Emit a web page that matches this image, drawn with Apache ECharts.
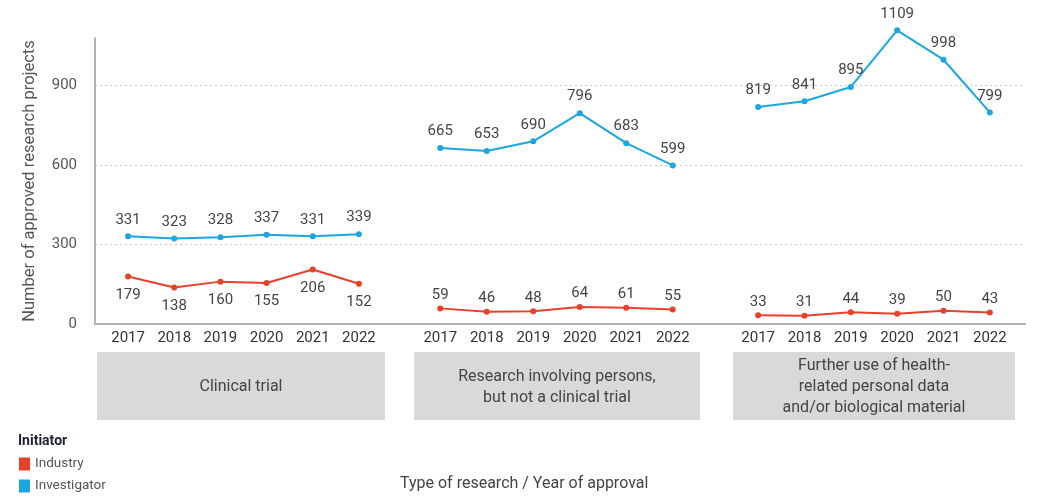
<!DOCTYPE html>
<html>
<head>
<meta charset="utf-8">
<script src="https://cdn.jsdelivr.net/npm/echarts@6/dist/echarts.min.js"></script>
<style>html,body{margin:0;padding:0;background:#fff;}#c{width:1040px;height:496px;}</style>
</head>
<body>
<div id="c"></div>
<script>
const years = ['2017','2018','2019','2020','2021','2022'];
const groupNames = ['Clinical trial', 'Research involving persons,\nbut not a clinical trial', 'Further use of health-\nrelated personal data\nand/or biological material'];
const industry = [
  [179, 138, 160, 155, 206, 152],
  [59, 46, 48, 64, 61, 55],
  [33, 31, 44, 39, 50, 43]
];
const investigator = [
  [331, 323, 328, 337, 331, 339],
  [665, 653, 690, 796, 683, 599],
  [819, 841, 895, 1109, 998, 799]
];
const yTicks = [0, 300, 600, 900];
const yMax = 1080;

const RED = '#e8412b', BLUE = '#1ca6e0';
const FONT = 'Roboto, "Liberation Sans", sans-serif';
const chart = echarts.init(document.getElementById('c'));

const gridPos = [
  {left: 105, width: 277},
  {left: 417, width: 279},
  {left: 735, width: 278}
];
const boxes = [
  {x: 97, w: 288},
  {x: 414, w: 286},
  {x: 733, w: 282}
];
const TOP = 38, BOTTOM = 172;

const grids = [{left: 95, right: 15, top: TOP, bottom: BOTTOM}];
const xAxes = [{gridIndex: 0, type: 'category', data: [''], axisLine: {lineStyle: {color: '#b0b0b0', width: 2}}, axisTick: {show: false}, axisLabel: {show: false}}];
const yAxes = [{
  gridIndex: 0, type: 'value', min: 0, max: yMax, interval: yTicks[1] - yTicks[0],
  name: 'Number of approved research projects', nameLocation: 'middle', nameGap: 57,
  nameTextStyle: {color: '#555', fontSize: 16.5, fontFamily: FONT},
  axisLine: {show: true, lineStyle: {color: '#9a9a9a', width: 1.5}},
  axisTick: {show: false},
  axisLabel: {color: '#555', fontSize: 15, fontFamily: FONT, margin: 18, showMaxLabel: false},
  splitLine: {show: true, showMaxLine: false, lineStyle: {color: '#c8c8c8', type: [2, 3], width: 1}}
}];
const series = [];
for (let g = 0; g < 3; g++) {
  grids.push({left: gridPos[g].left, width: gridPos[g].width, top: TOP, bottom: BOTTOM});
  xAxes.push({gridIndex: g + 1, type: 'category', data: years, boundaryGap: true,
    axisLine: {show: false}, axisTick: {show: false},
    axisLabel: {color: '#333', fontSize: 15, fontFamily: FONT, margin: 7, interval: 0}});
  yAxes.push({gridIndex: g + 1, type: 'value', min: 0, max: yMax, show: false, splitLine: {show: false}});
  series.push({
    name: 'Industry', type: 'line', xAxisIndex: g + 1, yAxisIndex: g + 1, data: industry[g],
    symbol: 'circle', symbolSize: 6, itemStyle: {color: RED}, lineStyle: {color: RED, width: 2},
    label: {show: true, position: g === 0 ? 'bottom' : 'top', distance: g === 0 ? 8 : 3, color: '#444', fontSize: 15, fontFamily: FONT},
    z: 3
  });
  series.push({
    name: 'Investigator', type: 'line', xAxisIndex: g + 1, yAxisIndex: g + 1, data: investigator[g],
    symbol: 'circle', symbolSize: 6, itemStyle: {color: BLUE}, lineStyle: {color: BLUE, width: 2},
    label: {show: true, position: 'top', distance: 6, color: '#444', fontSize: 15, fontFamily: FONT},
    clip: false, z: 3
  });
}

const graphic = [];
for (let g = 0; g < 3; g++) {
  graphic.push({type: 'rect', shape: {x: boxes[g].x, y: 352, width: boxes[g].w, height: 68}, style: {fill: '#d9d9d9'}, silent: true});
  graphic.push({type: 'text', x: boxes[g].x + boxes[g].w / 2, y: 387,
    style: {text: groupNames[g], textAlign: 'center', textVerticalAlign: 'middle', fill: '#444', fontSize: 16, fontFamily: FONT, lineHeight: 21}, silent: true});
}
graphic.push({type: 'text', x: 400, y: 484, style: {text: 'Type of research / Year of approval', textVerticalAlign: 'middle', fill: '#444', fontSize: 16, fontFamily: FONT}});

chart.setOption({
  animation: false,
  textStyle: {fontFamily: FONT},
  title: {text: 'Initiator', left: 18, top: 434, padding: 0, textStyle: {fontSize: 14, fontWeight: 'bold', color: '#1d2233', fontFamily: FONT}},
  legend: {data: ['Industry', 'Investigator'], orient: 'vertical', left: 19, top: 457, padding: 0, icon: 'rect', itemWidth: 11, itemHeight: 13, itemGap: 8,
    textStyle: {color: '#555', fontSize: 13.5, fontFamily: FONT}},
  grid: grids, xAxis: xAxes, yAxis: yAxes, series: series, graphic: graphic
});
</script>
</body>
</html>
